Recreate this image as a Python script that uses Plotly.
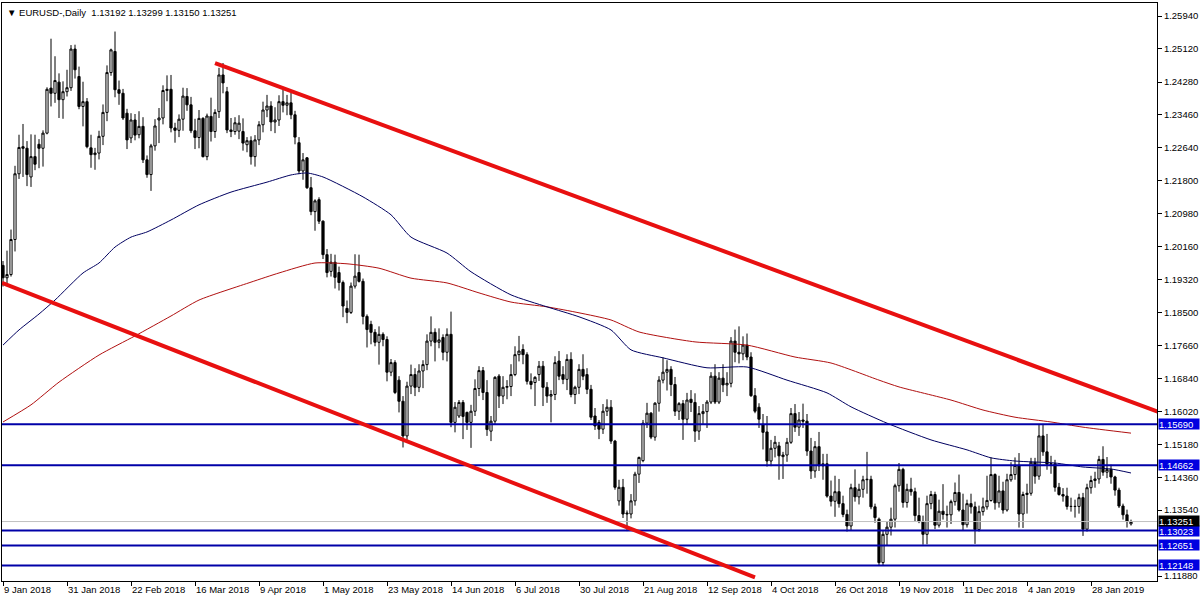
import plotly.graph_objects as go

# ---- data (EURUSD daily) ----
open_ = [
1.1968,1.1937,1.1945,1.2033,1.2198,1.2266,1.2262,1.2190,1.2241,1.2272,
1.2262,1.2300,1.2413,1.2400,1.2428,1.2384,1.2404,1.2414,1.2511,1.2442,
1.2367,1.2379,1.2263,1.2246,1.2250,1.2292,1.2352,1.2452,1.2505,1.2409,
1.2400,1.2350,1.2288,1.2333,1.2296,1.2317,1.2233,1.2196,1.2268,1.2333,
1.2338,1.2407,1.2410,1.2313,1.2307,1.2335,1.2392,1.2371,1.2306,1.2289,
1.2337,1.2241,1.2342,1.2304,1.2354,1.2446,1.2404,1.2308,1.2304,1.2305,
1.2304,1.2271,1.2281,1.2241,1.2283,1.2321,1.2358,1.2368,1.2328,1.2333,
1.2379,1.2370,1.2376,1.2346,1.2276,1.2205,1.2238,1.2163,1.2103,1.2133,
1.2079,1.1995,1.1953,1.1976,1.1950,1.1925,1.1860,1.1850,1.1916,1.1950,
1.1928,1.1840,1.1820,1.1800,1.1775,1.1795,1.1782,1.1700,1.1724,1.1680,
1.1627,1.1540,1.1665,1.1694,1.1662,1.1703,1.1719,1.1778,1.1800,1.1775,
1.1787,1.1750,1.1795,1.1574,1.1590,1.1624,1.1599,1.1574,1.1602,1.1659,
1.1704,1.1649,1.1552,1.1577,1.1690,1.1640,1.1662,1.1664,1.1694,1.1744,
1.1757,1.1744,1.1677,1.1674,1.1694,1.1715,1.1662,1.1640,1.1644,1.1728,
1.1694,1.1682,1.1732,1.1644,1.1662,1.1707,1.1694,1.1657,1.1590,1.1574,
1.1557,1.1602,1.1612,1.1527,1.1377,1.1411,1.1344,1.1344,1.1377,1.1444,
1.1478,1.1572,1.1597,1.1537,1.1622,1.1680,1.1700,1.1707,1.1669,1.1602,
1.1621,1.1582,1.1632,1.1624,1.1552,1.1596,1.1601,1.1625,1.1690,1.1625,
1.1685,1.1668,1.1672,1.1778,1.1750,1.1746,1.1768,1.1738,1.1641,1.1612,
1.1569,1.1550,1.1477,1.1509,1.1515,1.1488,1.1492,1.1524,1.1596,1.1562,
1.1580,1.1577,1.1502,1.1452,1.1513,1.1465,1.1470,1.1389,1.1376,1.1400,
1.1370,1.1343,1.1314,1.1410,1.1387,1.1406,1.1430,1.1431,1.1362,1.1331,
1.1222,1.1293,1.1311,1.1331,1.1415,1.1456,1.1373,1.1406,1.1400,1.1340,
1.1325,1.1293,1.1370,1.1393,1.1316,1.1351,1.1343,1.1342,1.1375,1.1398,
1.1354,1.1317,1.1370,1.1362,1.1305,1.1350,1.1362,1.1378,1.1443,1.1372,
1.1402,1.1354,1.1430,1.1443,1.1466,1.1344,1.1393,1.1396,1.1474,1.1439,
1.1540,1.1500,1.1469,1.1470,1.1411,1.1393,1.1389,1.1363,1.1363,1.1363,
1.1385,1.1306,1.1410,1.1428,1.1432,1.1481,1.1449,1.1456,1.1437,1.1404,
1.1364,1.1342,1.13192]
high = [
1.1979,1.2005,1.2058,1.2218,1.2296,1.2323,1.2280,1.2297,1.2296,1.2285,
1.2307,1.2415,1.2537,1.2493,1.2450,1.2430,1.2459,1.2521,1.2522,1.2467,
1.2429,1.2388,1.2296,1.2263,1.2306,1.2372,1.2470,1.2512,1.2555,1.2432,
1.2411,1.2361,1.2350,1.2348,1.2355,1.2340,1.2244,1.2273,1.2335,1.2363,
1.2420,1.2445,1.2446,1.2326,1.2347,1.2414,1.2413,1.2391,1.2336,1.2358,
1.2340,1.2349,1.2389,1.2360,1.2464,1.2476,1.2416,1.2338,1.2340,1.2345,
1.2337,1.2290,1.2292,1.2295,1.2330,1.2379,1.2396,1.2380,1.2365,1.2395,
1.2409,1.2396,1.2401,1.2356,1.2290,1.2250,1.2240,1.2190,1.2134,1.2139,
1.2081,1.2009,1.1997,1.1995,1.1965,1.1930,1.1880,1.1925,1.1996,1.1995,
1.1935,1.1845,1.1829,1.1808,1.1815,1.1800,1.1790,1.1733,1.1730,1.1690,
1.1640,1.1676,1.1719,1.1710,1.1720,1.1730,1.1795,1.1840,1.1810,1.1810,
1.1795,1.1810,1.1852,1.1625,1.1630,1.1630,1.1601,1.1618,1.1682,1.1715,
1.1713,1.1680,1.1590,1.1690,1.1695,1.1690,1.1680,1.1720,1.1765,1.1791,
1.1770,1.1750,1.1697,1.1690,1.1728,1.1728,1.1675,1.1655,1.1740,1.1753,
1.1715,1.1745,1.1750,1.1666,1.1720,1.1745,1.1710,1.1668,1.1610,1.1580,
1.1620,1.1632,1.1630,1.1530,1.1430,1.1432,1.1353,1.1394,1.1450,1.1488,
1.1580,1.1623,1.1600,1.1625,1.1690,1.1737,1.1730,1.1715,1.1688,1.1625,
1.1630,1.1648,1.1655,1.1647,1.1615,1.1620,1.1630,1.1700,1.1720,1.1700,
1.1720,1.1700,1.1788,1.1807,1.1815,1.1790,1.1797,1.1750,1.1660,1.1622,
1.1595,1.1590,1.1530,1.1540,1.1525,1.1500,1.1535,1.1610,1.1620,1.1600,
1.1621,1.1595,1.1535,1.1527,1.1550,1.1495,1.1495,1.1428,1.1440,1.1432,
1.1390,1.1355,1.1420,1.1456,1.1420,1.1440,1.1500,1.1440,1.1370,1.1335,
1.1302,1.1325,1.1360,1.1420,1.1472,1.1460,1.1420,1.1435,1.1410,1.1385,
1.1340,1.1390,1.1402,1.1400,1.1380,1.1419,1.1365,1.1380,1.1423,1.1443,
1.1395,1.1380,1.1395,1.1375,1.1365,1.1385,1.1440,1.1486,1.1446,1.1440,
1.1425,1.1445,1.1474,1.1486,1.1497,1.1400,1.1420,1.1485,1.1485,1.1569,
1.1570,1.1545,1.1490,1.1480,1.1422,1.1409,1.1410,1.1385,1.1380,1.1395,
1.1397,1.1420,1.1440,1.1450,1.1490,1.1514,1.1487,1.1468,1.1440,1.1410,
1.1370,1.1355,1.13299]
low = [
1.1915,1.1916,1.1940,1.2003,1.2185,1.2190,1.2167,1.2165,1.2207,1.2212,
1.2216,1.2297,1.2367,1.2376,1.2338,1.2336,1.2392,1.2406,1.2437,1.2360,
1.2317,1.2262,1.2213,1.2208,1.2234,1.2270,1.2330,1.2444,1.2390,1.2371,
1.2333,1.2260,1.2275,1.2282,1.2287,1.2225,1.2188,1.2155,1.2256,1.2275,
1.2322,1.2380,1.2302,1.2276,1.2290,1.2306,1.2356,1.2300,1.2260,1.2262,
1.2239,1.2232,1.2279,1.2288,1.2338,1.2400,1.2300,1.2290,1.2296,1.2285,
1.2256,1.2252,1.2221,1.2216,1.2270,1.2302,1.2340,1.2305,1.2300,1.2318,
1.2352,1.2345,1.2335,1.2272,1.2197,1.2183,1.2160,1.2094,1.2055,1.2072,
1.1984,1.1938,1.1940,1.1910,1.1905,1.1838,1.1823,1.1846,1.1910,1.1925,
1.1820,1.1762,1.1770,1.1765,1.1719,1.1765,1.1677,1.1690,1.1645,1.1599,
1.1511,1.1530,1.1645,1.1640,1.1650,1.1660,1.1705,1.1765,1.1727,1.1760,
1.1730,1.1727,1.1562,1.1549,1.1585,1.1532,1.1555,1.1510,1.1590,1.1640,
1.1630,1.1540,1.1527,1.1570,1.1610,1.1620,1.1632,1.1640,1.1690,1.1727,
1.1720,1.1669,1.1657,1.1615,1.1678,1.1615,1.1623,1.1574,1.1630,1.1680,
1.1670,1.1655,1.1637,1.1620,1.1645,1.1680,1.1645,1.1580,1.1555,1.1532,
1.1545,1.1590,1.1520,1.1405,1.1365,1.1334,1.1301,1.1333,1.1365,1.1422,
1.1474,1.1560,1.1532,1.1528,1.1601,1.1672,1.1654,1.1640,1.1590,1.1580,
1.1530,1.1570,1.1600,1.1525,1.1530,1.1570,1.1560,1.1620,1.1620,1.1620,
1.1650,1.1640,1.1662,1.1725,1.1722,1.1730,1.1730,1.1638,1.1597,1.1560,
1.1506,1.1463,1.1464,1.1486,1.1430,1.1432,1.1475,1.1520,1.1550,1.1540,
1.1560,1.1490,1.1432,1.1435,1.1452,1.1430,1.1385,1.1363,1.1337,1.1360,
1.1336,1.1300,1.1303,1.1375,1.1368,1.1385,1.1395,1.1356,1.1322,1.1215,
1.1215,1.1265,1.1290,1.1310,1.1400,1.1360,1.1360,1.1390,1.1325,1.1321,
1.1267,1.1268,1.1356,1.1306,1.1310,1.1330,1.1310,1.1319,1.1365,1.1350,
1.1302,1.1310,1.1345,1.1269,1.1300,1.1340,1.1355,1.1375,1.1355,1.1360,
1.1345,1.1350,1.1425,1.1430,1.1310,1.1309,1.1345,1.1390,1.1420,1.1430,
1.1490,1.1455,1.1445,1.1400,1.1390,1.1375,1.1355,1.1350,1.1335,1.1345,
1.1289,1.1300,1.1395,1.1410,1.1420,1.1440,1.1434,1.1420,1.1390,1.1359,
1.1330,1.1310,1.13150]
close = [
1.1937,1.1945,1.2033,1.2198,1.2264,1.2262,1.2196,1.2241,1.2222,1.2262,
1.2300,1.2410,1.2400,1.2432,1.2384,1.2404,1.2414,1.2511,1.2459,1.2367,
1.2379,1.2266,1.2246,1.2250,1.2292,1.2352,1.2452,1.2509,1.2409,1.2400,
1.2338,1.2283,1.2333,1.2295,1.2317,1.2233,1.2196,1.2268,1.2318,1.2338,
1.2407,1.2410,1.2313,1.2307,1.2335,1.2393,1.2371,1.2306,1.2289,1.2337,
1.2241,1.2343,1.2304,1.2352,1.2446,1.2426,1.2308,1.2304,1.2326,1.2325,
1.2275,1.2281,1.2241,1.2283,1.2321,1.2358,1.2368,1.2328,1.2333,1.2379,
1.2370,1.2376,1.2346,1.2290,1.2205,1.2233,1.2163,1.2103,1.2130,1.2079,
1.1995,1.1950,1.1976,1.1938,1.1925,1.1866,1.1850,1.1916,1.1941,1.1928,
1.1840,1.1807,1.1800,1.1775,1.1795,1.1782,1.1700,1.1724,1.1649,1.1627,
1.1540,1.1665,1.1694,1.1662,1.1703,1.1719,1.1778,1.1800,1.1775,1.1781,
1.1750,1.1795,1.1574,1.1612,1.1624,1.1589,1.1574,1.1602,1.1659,1.1704,
1.1649,1.1556,1.1577,1.1687,1.1640,1.1662,1.1664,1.1694,1.1744,1.1753,
1.1744,1.1677,1.1669,1.1687,1.1715,1.1662,1.1640,1.1644,1.1724,1.1690,
1.1682,1.1732,1.1644,1.1662,1.1707,1.1690,1.1657,1.1587,1.1565,1.1557,
1.1602,1.1612,1.1527,1.1411,1.1411,1.1344,1.1346,1.1377,1.1444,1.1486,
1.1572,1.1597,1.1537,1.1622,1.1680,1.1700,1.1707,1.1669,1.1602,1.1621,
1.1582,1.1630,1.1624,1.1552,1.1596,1.1601,1.1625,1.1690,1.1625,1.1685,
1.1668,1.1672,1.1778,1.1750,1.1746,1.1768,1.1738,1.1641,1.1602,1.1582,
1.1549,1.1477,1.1509,1.1524,1.1490,1.1492,1.1524,1.1596,1.1562,1.1580,
1.1577,1.1502,1.1452,1.1513,1.1465,1.1470,1.1389,1.1376,1.1400,1.1370,
1.1343,1.1314,1.1410,1.1387,1.1406,1.1430,1.1431,1.1362,1.1335,1.1222,
1.1293,1.1311,1.1331,1.1415,1.1456,1.1373,1.1406,1.1400,1.1340,1.1325,
1.1293,1.1370,1.1393,1.1316,1.1351,1.1343,1.1342,1.1375,1.1398,1.1354,
1.1317,1.1370,1.1362,1.1305,1.1350,1.1362,1.1378,1.1443,1.1372,1.1402,
1.1354,1.1430,1.1443,1.1466,1.1344,1.1393,1.1396,1.1474,1.1439,1.1540,
1.1500,1.1469,1.1470,1.1411,1.1393,1.1389,1.1363,1.1363,1.1363,1.1385,
1.1306,1.1410,1.1428,1.1432,1.1481,1.1449,1.1456,1.1437,1.1404,1.1364,
1.1342,1.1325,1.13251]

date_labels = ["9 Jan 2018", "31 Jan 2018", "22 Feb 2018", "16 Mar 2018", "9 Apr 2018",
               "1 May 2018", "23 May 2018", "14 Jun 2018", "6 Jul 2018", "30 Jul 2018",
               "21 Aug 2018", "12 Sep 2018", "4 Oct 2018", "26 Oct 2018", "19 Nov 2018",
               "11 Dec 2018", "4 Jan 2019", "28 Jan 2019"]
bars_per_label = 16

price_ticks = [1.11880, 1.13540, 1.14360, 1.15180, 1.16020, 1.16840, 1.17660, 1.18500,
               1.19320, 1.20160, 1.20980, 1.21800, 1.22640, 1.23460, 1.24280, 1.25120, 1.25940]

# moving averages read at sample bars
ma_blue_bars = [0, 4, 9, 13, 20, 24, 28, 32, 36, 42, 49, 57, 66, 72, 76, 80, 90, 97, 102, 111,
                117, 127, 136, 144, 152, 157, 165, 176, 186, 196, 206, 212, 221, 232, 241, 247,
                253, 263, 270, 277, 282]
ma_blue_vals = [1.1768, 1.1806, 1.1846, 1.1881, 1.1949, 1.1974, 1.2014, 1.2039, 1.2052, 1.2082,
                1.2120, 1.2152, 1.2177, 1.2195, 1.2200, 1.2190, 1.2140, 1.2095, 1.2039, 1.1999,
                1.1952, 1.1894, 1.1864, 1.1839, 1.1806, 1.1756, 1.1736, 1.1711, 1.1713, 1.1680,
                1.1648, 1.1613, 1.1572, 1.1530, 1.1505, 1.1485, 1.1477, 1.1472, 1.1462, 1.1457,
                1.1447]
ma_red_bars = [0, 7, 14, 24, 33, 42, 49, 62, 69, 78, 86, 94, 102, 111, 119, 127, 136, 144, 152,
               159, 173, 186, 198, 207, 219, 224, 237, 245, 253, 262, 270, 282]
ma_red_vals = [1.1575, 1.1618, 1.1675, 1.1743, 1.1791, 1.1841, 1.1881, 1.1926, 1.1949, 1.1974,
               1.1972, 1.1961, 1.1936, 1.1924, 1.1899, 1.1876, 1.1864, 1.1849, 1.1831, 1.1801,
               1.1776, 1.1768, 1.1738, 1.1723, 1.1680, 1.1663, 1.1630, 1.1605, 1.1587, 1.1575,
               1.1562, 1.1547]

# trend lines (bar, price)
upper_trend_bars = [53, 290]
upper_trend_vals = [1.2476, 1.1596]
lower_trend_bars = [-0.25, 188]
lower_trend_vals = [1.1924, 1.1185]

level_lines = [1.15690, 1.14662, 1.13023, 1.12651, 1.12148]
last_price = 1.13251
title_text = "▼ EURUSD-,Daily  1.13192 1.13299 1.13150 1.13251"

# ---- figure ----
n = len(close)
bars = list(range(n))
FONT = "Liberation Sans"
FS = 9.5
LEVEL_COLOR = "#0000A8"
BOX_COLOR = "#0000E0"

fig = go.Figure()
fig.add_trace(go.Candlestick(
    x=bars, open=open_, high=high, low=low, close=close,
    increasing=dict(line=dict(color="black", width=1), fillcolor="white"),
    decreasing=dict(line=dict(color="black", width=1), fillcolor="black"),
    whiskerwidth=0, hoverinfo="skip", showlegend=False))

fig.add_trace(go.Scatter(x=ma_red_bars, y=ma_red_vals, mode="lines",
                         line=dict(color="#B01010", width=1, shape="spline", smoothing=0.6),
                         hoverinfo="skip", showlegend=False))
fig.add_trace(go.Scatter(x=ma_blue_bars, y=ma_blue_vals, mode="lines",
                         line=dict(color="#000060", width=1, shape="spline", smoothing=0.6),
                         hoverinfo="skip", showlegend=False))

xr = [-0.25, 288.5]
fig.add_trace(go.Scatter(x=xr, y=[last_price, last_price], mode="lines",
                         line=dict(color="#C0C0C0", width=1), hoverinfo="skip", showlegend=False))
for lv in level_lines:
    fig.add_trace(go.Scatter(x=xr, y=[lv, lv], mode="lines",
                             line=dict(color=LEVEL_COLOR, width=2), hoverinfo="skip", showlegend=False))

fig.add_trace(go.Scatter(x=upper_trend_bars, y=upper_trend_vals, mode="lines",
                         line=dict(color="#E81010", width=4), hoverinfo="skip", showlegend=False))
fig.add_trace(go.Scatter(x=lower_trend_bars, y=lower_trend_vals, mode="lines",
                         line=dict(color="#E81010", width=4), hoverinfo="skip", showlegend=False))

annotations = [dict(xref="paper", yref="paper", x=0, y=1, xanchor="left", yanchor="top",
                    xshift=3, yshift=-2, text=title_text, showarrow=False,
                    font=dict(family=FONT, size=FS, color="black"))]
for lv in level_lines:
    annotations.append(dict(xref="paper", yref="y", x=1, y=lv, xanchor="left", yanchor="middle",
                            xshift=1, text=f"{lv:.5f}", showarrow=False, bgcolor=BOX_COLOR,
                            borderpad=0, width=40, height=10, align="left",
                            font=dict(family=FONT, size=FS, color="white")))
annotations.append(dict(xref="paper", yref="y", x=1, y=last_price, xanchor="left", yanchor="middle",
                        xshift=1, yshift=1, text=f"{last_price:.5f}", showarrow=False, bgcolor="black",
                        borderpad=0, width=40, height=10, align="left",
                        font=dict(family=FONT, size=FS, color="white")))

tick_bars = list(range(0, n, bars_per_label))[:len(date_labels)]

fig.update_layout(
    width=1200, height=600,
    margin=dict(l=2, r=43, t=3, b=19, autoexpand=False),
    paper_bgcolor="white", plot_bgcolor="white",
    font=dict(family=FONT, size=FS, color="black"),
    showlegend=False, boxgap=0.22,
    annotations=annotations,
    xaxis=dict(range=xr, showgrid=False, zeroline=False, rangeslider=dict(visible=False),
               showline=True, linecolor="black", linewidth=1, mirror=True,
               tickmode="array", tickvals=tick_bars, ticktext=date_labels, tickangle=0,
               ticks="outside", ticklen=4, tickcolor="black", ticklabelposition="outside right",
               tickfont=dict(family=FONT, size=FS, color="black")),
    yaxis=dict(range=[1.117585, 1.262663], side="right", showgrid=False, zeroline=False,
               showline=True, linecolor="black", linewidth=1, mirror=True,
               tickmode="array", tickvals=price_ticks, ticktext=[f"{v:.5f}" for v in price_ticks],
               ticks="outside", ticklen=4, tickcolor="black",
               tickfont=dict(family=FONT, size=FS, color="black")),
)

fig.write_html("out.html", config={"displayModeBar": False},
               post_script="document.body.style.margin='0';document.body.style.overflow='hidden';")
